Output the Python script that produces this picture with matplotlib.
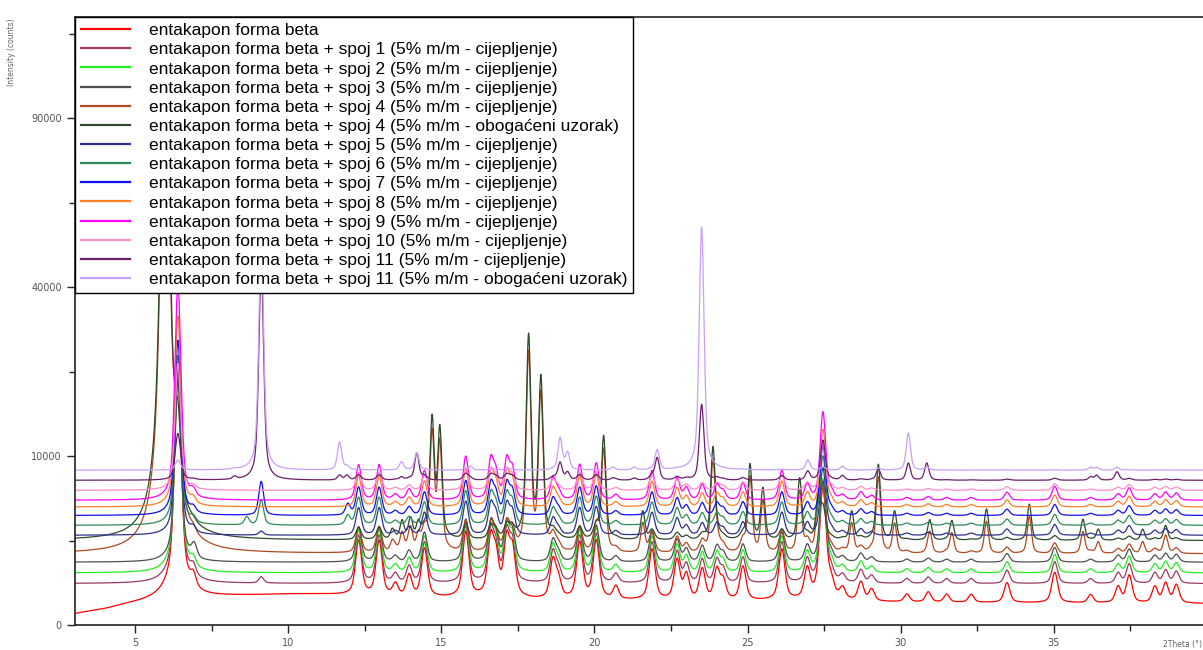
import numpy as np
import matplotlib
matplotlib.use("Agg")
import matplotlib.pyplot as plt
from matplotlib.ticker import FixedLocator, FixedFormatter, NullFormatter

# ---------------- data ----------------
labels = [
    "entakapon forma beta",
    "entakapon forma beta + spoj 1 (5% m/m - cijepljenje)",
    "entakapon forma beta + spoj 2 (5% m/m - cijepljenje)",
    "entakapon forma beta + spoj 3 (5% m/m - cijepljenje)",
    "entakapon forma beta + spoj 4 (5% m/m - cijepljenje)",
    "entakapon forma beta + spoj 4 (5% m/m - obogaćeni uzorak)",
    "entakapon forma beta + spoj 5 (5% m/m - cijepljenje)",
    "entakapon forma beta + spoj 6 (5% m/m - cijepljenje)",
    "entakapon forma beta + spoj 7 (5% m/m - cijepljenje)",
    "entakapon forma beta + spoj 8 (5% m/m - cijepljenje)",
    "entakapon forma beta + spoj 9 (5% m/m - cijepljenje)",
    "entakapon forma beta + spoj 10 (5% m/m - cijepljenje)",
    "entakapon forma beta + spoj 11 (5% m/m - cijepljenje)",
    "entakapon forma beta + spoj 11 (5% m/m - obogaćeni uzorak)",
]
colors = ["#FF0000", "#9B3A62", "#22EE22", "#505050", "#B04A22", "#2F4A2A",
          "#30308F", "#2E8B57", "#1010F0", "#FF7F27", "#FF00FF", "#FF8CC8",
          "#6B1F6B", "#C8A0F8"]
# constant background level of each pattern (counts)
offsets = [0, 600, 950, 1380, 1780, 2500, 2820, 3480, 4200, 4880, 5450, 6350, 7340, 8400]
# relative intensity of the beta-form pattern in each sample
beta_scale = [1.0, 1.0, 1.0, 0.9, 0.7, 0.35, 0.9, 1.0, 1.1, 1.3, 1.6, 0.8, 0.25, 0.05]
# relative intensity of the spoj 4 phase in each sample
s4_scale = [0, 0, 0, 0, 0.9, 1.0, 0, 0, 0, 0, 0, 0, 0, 0]

# background of the pure beta form (2theta, counts)
red_bg_x = [3, 4, 5, 6, 7, 8, 10, 11, 14, 18, 24, 30, 35, 40]
red_bg_y = [35, 75, 150, 210, 250, 290, 330, 330, 260, 210, 200, 180, 170, 160]

# entakapon forma beta peaks (2theta, counts)
beta_pos = [6.40, 6.90, 12.30, 12.97, 13.50, 13.95, 14.45, 15.80, 16.62, 16.78,
            17.14, 17.32, 18.65, 18.82, 19.52, 20.06, 20.70, 21.88, 22.70, 23.00,
            23.52, 24.00, 24.20, 24.85, 26.12, 26.95, 27.46, 27.72, 28.10, 28.70,
            29.05, 30.20, 30.90, 31.50, 32.30, 33.47, 35.03, 36.20, 37.10, 37.46,
            38.30, 38.65, 39.00]
beta_h = [22000, 400, 2200, 2200, 300, 600, 1800, 2800, 2500, 1500,
          2500, 1800, 1300, 500, 2200, 2300, 300, 1800, 1300, 700,
          900, 900, 500, 1000, 1800, 900, 6500, 400, 250, 450,
          250, 150, 200, 150, 150, 450, 800, 150, 350, 700,
          350, 450, 400]

# spoj 4 phase: strong low-angle doublet and the other peaks
s4_low_pos = [5.88, 6.08]
s4_low_h = [60000, 60000]
s4_pos = [13.40, 13.72, 14.00, 14.25, 14.70, 14.95, 17.85, 18.25,
          20.30, 21.58, 23.87, 25.08, 25.50, 26.70, 27.30, 28.40, 29.27, 29.80,
          30.95, 31.67, 32.80, 34.20, 35.95, 36.45, 37.90, 38.65]
s4_h = [600, 1200, 1200, 1000, 12500, 11000, 27000, 19000,
        10000, 2000, 8500, 6500, 4000, 5000, 3000, 2000, 6500, 2000,
        1300, 1300, 2200, 2600, 1400, 700, 700, 800]

# spoj 11 phase peaks (cijepljenje and obogaćeni uzorak)
s11_pos = [8.25, 9.12, 11.68, 11.92, 13.70, 14.20, 15.95, 18.88, 19.12, 20.60,
           21.30, 22.05, 23.50, 26.97, 27.46, 28.10, 29.27, 30.25, 30.85, 36.20,
           36.40, 37.06]
s11_h_obog = [100, 45000, 3300, 400, 900, 2000, 400, 3800, 2000, 300,
              300, 2300, 47000, 1100, 0, 400, 200, 4500, 300, 300,
              300, 300]
s11_h_cij = [300, 38000, 500, 500, 300, 3000, 200, 1800, 800, 200,
             200, 2400, 9500, 700, 3000, 400, 1200, 1800, 1800, 300,
             500, 800]

# additional peaks of individual samples
spoj6_pos = [8.65, 9.12, 11.95]
spoj6_h = [600, 2000, 700]
spoj7_pos = [9.12, 11.95]
spoj7_h = [3000, 900]
spoj1_pos = [9.12]
spoj1_h = [200]
spoj5_pos = [9.12]
spoj5_h = [250]
spoj3_pos = [6.95]
spoj3_h = [400]

# ---------------- build patterns ----------------
two_theta = np.linspace(3.0, 40.0, 3701)


def pattern(pos, h, hwhm, eta=0.5):
    out = np.zeros_like(two_theta)
    for p, a in zip(pos, h):
        d = (two_theta - p) / hwhm
        out += a * (eta / (1 + d ** 2) + (1 - eta) * np.exp(-np.log(2) * d ** 2))
    return out


beta_pat = pattern(beta_pos, beta_h, 0.10, 0.5)
s4_pat = pattern(s4_pos, s4_h, 0.075) + pattern(s4_low_pos, s4_low_h, 0.10, 1.0)
s11_obog = pattern(s11_pos, s11_h_obog, 0.08)
s11_cij = pattern(s11_pos, s11_h_cij, 0.08)
red_bg = np.interp(two_theta, red_bg_x, red_bg_y)

extras = {1: (spoj1_pos, spoj1_h), 3: (spoj3_pos, spoj3_h), 6: (spoj5_pos, spoj5_h),
          7: (spoj6_pos, spoj6_h), 8: (spoj7_pos, spoj7_h)}

series = []
for i in range(len(labels)):
    y = offsets[i] + beta_scale[i] * beta_pat + s4_scale[i] * s4_pat
    if i == 0:
        y = y + red_bg
    if i == 12:
        y = y + s11_cij
    if i == 13:
        y = y + s11_obog
    if i in extras:
        y = y + pattern(extras[i][0], extras[i][1], 0.09)
    series.append(y)

# ---------------- plot ----------------
W, H = 1203, 650
fig = plt.figure(figsize=(W / 100, H / 100), dpi=100)
ax = fig.add_axes([75 / W, 25 / H, 1 - 75 / W, 608 / H])

fwd = lambda v: np.sqrt(np.maximum(v, 0))
inv = lambda v: np.asarray(v) ** 2
ax.set_yscale("function", functions=(fwd, inv))

handles = []
for y, c, lab in zip(series, colors, labels):
    ln, = ax.plot(two_theta, y, color=c, lw=0.9, label=lab)
    handles.append(ln)

ax.set_xlim(3.04, 39.87)
ax.set_ylim(0, 129500)

ax.xaxis.set_major_locator(FixedLocator([5, 10, 15, 20, 25, 30, 35]))
ax.xaxis.set_minor_locator(FixedLocator([7.5, 12.5, 17.5, 22.5, 27.5, 32.5, 37.5]))
ax.yaxis.set_major_locator(FixedLocator([0, 10000, 40000, 90000]))
ax.yaxis.set_major_formatter(FixedFormatter(["0", "10000", "40000", "90000"]))
ax.yaxis.set_minor_locator(FixedLocator([2500, 22500, 62500, 122500]))
ax.yaxis.set_minor_formatter(NullFormatter())
ax.tick_params(which="major", length=6, width=1, labelsize=7, labelcolor="#555555",
               color="#222222")
ax.tick_params(which="minor", length=4, width=1, color="#222222")
for s in ["left", "bottom", "top"]:
    ax.spines[s].set_color("#222222")
    ax.spines[s].set_linewidth(1.2)
ax.spines["right"].set_visible(False)

leg = ax.legend(handles=handles, loc="upper left", bbox_to_anchor=(0, 1),
                borderaxespad=0, fancybox=False, framealpha=1, edgecolor="black",
                prop={"family": "Liberation Sans", "size": 12.5},
                handlelength=2.8, handletextpad=1.1, labelspacing=0.23,
                borderpad=0.35)
leg.get_frame().set_linewidth(1.0)
leg.set_zorder(10)
for lh in leg.legend_handles:
    lh.set_linewidth(1.6)

fig.text(12 / W, 1 - 18 / H, "Intensity (counts)", rotation=90, va="top",
         ha="center", fontsize=5.5, color="#666666")
fig.text(1163 / W, 1 / H, "2Theta (°)", va="bottom", ha="left",
         fontsize=5.5, color="#666666")

fig.savefig("out.png", dpi=100)
